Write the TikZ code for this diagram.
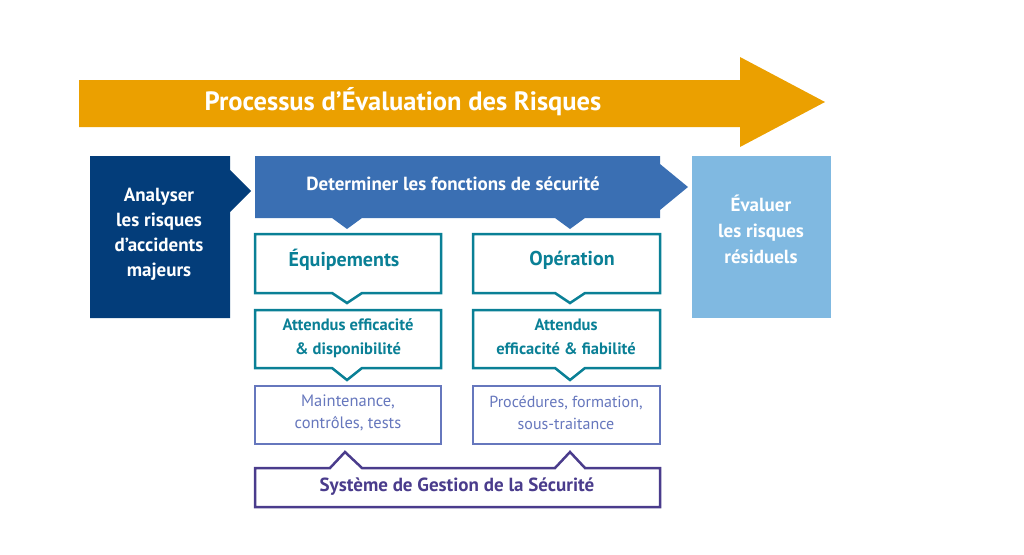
\documentclass[tikz,border=0pt]{standalone}
\usepackage{fontspec}
\setmainfont{PT Sans}
\definecolor{orng}{HTML}{EBA000}
\definecolor{dkb}{HTML}{033D7A}
\definecolor{midb}{HTML}{3A6FB3}
\definecolor{ltb}{HTML}{80B9E1}
\definecolor{teal}{HTML}{0A8096}
\definecolor{lav}{HTML}{6677BD}
\definecolor{purp}{HTML}{4A3C8C}
\begin{document}
\begin{tikzpicture}[x=1pt,y=-1pt,
  tw/.style={text=white,align=center,font=\bfseries\fontsize{19}{25}\selectfont},
  tt/.style={text=teal,align=center},
  box/.style={line width=2.5pt,fill=white,line join=miter}]
\useasboundingbox (0,0) rectangle (1024,554);
% big arrow
\fill[orng] (79,80)--(740,80)--(740,57)--(825,102)--(740,147)--(740,127)--(79,127)--cycle;
\node[text=white,font=\bfseries\fontsize{26.5}{30}\selectfont] (title) at (403,102) {Processus d’Évaluation des Risques};
% dark box
\fill[dkb] (90,156)--(230,156)--(230,170)--(251,191)--(230,212)--(230,318)--(90,318)--cycle;
\node[tw] (ana) at (159,234) {Analyser\\les risques\\d’accidents\\majeurs};
% banner
\fill[midb] (255,156)--(660,156)--(660,164)--(688,187)--(660,210)--(660,218)--(585,218)--(570,229)--(555,218)--(362,218)--(347,229)--(332,218)--(255,218)--cycle;
\node[tw] (det) at (453,184) {Determiner les fonctions de sécurité};
% light box
\fill[ltb] (692,156) rectangle (831,318);
\node[tw,font=\bfseries\fontsize{19}{26}\selectfont] (eval) at (761,229) {Évaluer\\les risques\\résiduels};
% teal boxes
\draw[box,draw=teal] (255,234)--(441,234)--(441,293)--(362,293)--(347,303)--(332,293)--(255,293)--cycle;
\node[tt,font=\bfseries\fontsize{20}{24}\selectfont] (equ) at (344,260) {Équipements};
\draw[box,draw=teal] (473,234)--(660,234)--(660,293)--(585,293)--(570,303)--(555,293)--(473,293)--cycle;
\node[tt,font=\bfseries\fontsize{20}{24}\selectfont] (op) at (572,260) {Opération};
\draw[box,draw=teal] (255,310)--(441,310)--(441,368)--(362,368)--(347,380)--(332,368)--(255,368)--cycle;
\node[tt,font=\bfseries\fontsize{16.5}{24}\selectfont] (att1) at (348,338) {Attendus efficacité\\\& disponibilité};
\draw[box,draw=teal] (473,310)--(660,310)--(660,368)--(585,368)--(570,380)--(555,368)--(473,368)--cycle;
\node[tt,font=\bfseries\fontsize{16.5}{24}\selectfont] (att2) at (566,337) {Attendus\\efficacité \& fiabilité};
% lavender
\draw[box,draw=lav] (255,386) rectangle (441,444);
\node[text=lav,align=center,font=\fontsize{16.5}{22}\selectfont] (mnt) at (348,413) {Maintenance,\\contrôles, tests};
\draw[box,draw=lav] (473,386) rectangle (660,444);
\node[text=lav,align=center,font=\fontsize{16}{22}\selectfont] (proc) at (566,413) {Procédures, formation,\\sous-traitance};
% SGS
\draw[box,draw=purp] (255,468)--(330,468)--(345,452)--(362,468)--(555,468)--(570,452)--(585,468)--(660,468)--(660,507)--(255,507)--cycle;
\node[text=purp,font=\bfseries\fontsize{19}{22}\selectfont] (sgs) at (457,487) {Système de Gestion de la Sécurité};
\end{tikzpicture}
\end{document}
